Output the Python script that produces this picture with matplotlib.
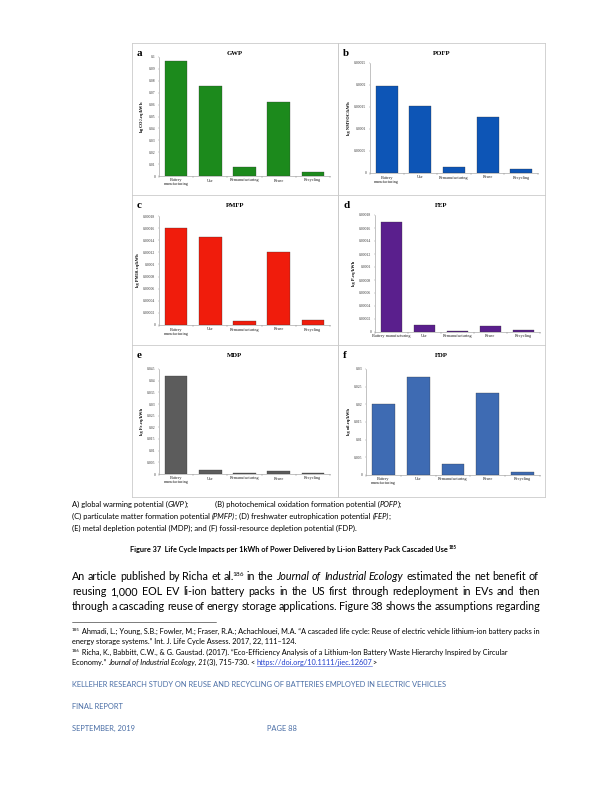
import matplotlib
matplotlib.use("Agg")
import matplotlib.pyplot as plt
from matplotlib.lines import Line2D
from matplotlib.ticker import FixedLocator, FuncFormatter

# page is 612 x 792 points, drawn at 72 dpi so 1 px = 1 pt
W, H = 612, 792
SERIF = "Liberation Serif"
BODY = "Lato"
FOOTBLUE = "#4a6ea6"

categories = ["Battery\nmanufacturing", "Use", "Remanufacturing", "Reuse", "Recycling"]
categories_d = ["Battery manufacturing", "Use", "Remanufacturing", "Reuse", "Recycling"]

gwp = [0.0966, 0.0757, 0.0073, 0.0626, 0.0036]
pofp = [0.000197, 0.000153, 0.000013, 0.000127, 0.000009]
pmfp = [0.000161, 0.000146, 0.000006, 0.000121, 0.0000077]
fep = [0.000170, 0.0000107, 0.000002, 0.0000087, 0.0000026]
mdp = [0.0421, 0.0017, 0.0004, 0.0014, 0.0004]
fdp = [0.0202, 0.0277, 0.0032, 0.0231, 0.00075]

gwp_ticks = [0, 0.01, 0.02, 0.03, 0.04, 0.05, 0.06, 0.07, 0.08, 0.09, 0.1]
pofp_ticks = [0, 0.00005, 0.0001, 0.00015, 0.0002, 0.00025]
pmfp_ticks = [0, 0.00002, 0.00004, 0.00006, 0.00008, 0.0001, 0.00012, 0.00014, 0.00016, 0.00018]
fep_ticks = pmfp_ticks
mdp_ticks = [0, 0.005, 0.01, 0.015, 0.02, 0.025, 0.03, 0.035, 0.04, 0.045]
fdp_ticks = [0, 0.005, 0.01, 0.015, 0.02, 0.025, 0.03]

fig = plt.figure(figsize=(W / 72, H / 72), dpi=72)
fig.patch.set_facecolor("white")


def fx(x):
    return x / W


def fy(y):
    return 1 - y / H


def fmt(v, pos=None):
    if v == 0:
        return "0"
    return ("%.6f" % v).rstrip("0").rstrip(".")


# panel frames (light gray boxes around each sub-chart)
frame_col = "#c9c9c9"
for x0, x1 in [(132, 338), (338, 545)]:
    fig.add_artist(Line2D([fx(x0), fx(x0)], [fy(43), fy(497)], color=frame_col, lw=0.8))
    fig.add_artist(Line2D([fx(x1), fx(x1)], [fy(43), fy(497)], color=frame_col, lw=0.8))
for yy in [43, 195, 345, 497]:
    fig.add_artist(Line2D([fx(132), fx(545)], [fy(yy), fy(yy)], color=frame_col, lw=0.8))

panels = [
    # letter, title, values, ticks, ylabel, color, axes px box, frame px box, labels
    ("a", "GWP", gwp, gwp_ticks, "kg CO$_2$-eq/kWh", "#1c8a1c", (159, 57, 330, 176), (132, 43, 338), categories),
    ("b", "POFP", pofp, pofp_ticks, "kg NMVOC/kWh", "#0d55b6", (370, 63, 538, 173), (338, 43, 545), categories),
    ("c", "PMFP", pmfp, pmfp_ticks, "kg PM10-eq/kWh", "#f01c0c", (159, 216, 330, 325), (132, 195, 338), categories),
    ("d", "FEP", fep, fep_ticks, "kg P-eq/kWh", "#5a1f8d", (375, 215, 540, 332), (338, 195, 545), categories_d),
    ("e", "MDP", mdp, mdp_ticks, "kg Fe-eq/kWh", "#5c5c5c", (159, 369, 330, 474), (132, 345, 338), categories),
    ("f", "FDP", fdp, fdp_ticks, "kg oil-eq/kWh", "#3e6bb3", (366, 369, 540, 475), (338, 345, 545), categories),
]

for letter, title, vals, ticks, ylab, col, (x0, y0, x1, y1), (bx0, by0, bx1), labs in panels:
    ax = fig.add_axes([fx(x0), fy(y1), (x1 - x0) / W, (y1 - y0) / H])
    ax.bar(range(5), vals, width=0.66, color=col, edgecolor="#333333", linewidth=0.3, zorder=3)
    ax.set_xlim(-0.5, 4.5)
    ax.set_ylim(0, ticks[-1])
    ax.yaxis.set_major_locator(FixedLocator(ticks))
    ax.yaxis.set_major_formatter(FuncFormatter(fmt))
    ax.set_xticks(range(5))
    ax.set_xticklabels(labs, fontsize=4.2, family=SERIF, linespacing=1.0, color="#222222")
    ax.set_xticks([i - 0.5 for i in range(6)], minor=True)
    ax.tick_params(axis="x", which="major", length=0, pad=2.5)
    ax.tick_params(axis="x", which="minor", length=2, width=0.4, color="#888888")
    ax.tick_params(axis="y", length=1.5, width=0.4, color="#888888", labelsize=3.8, pad=2,
                   labelcolor="#333333")
    for lbl in ax.get_yticklabels():
        lbl.set_family(SERIF)
    for s in ["top", "right"]:
        ax.spines[s].set_visible(False)
    for s in ["left", "bottom"]:
        ax.spines[s].set_color("#888888")
        ax.spines[s].set_linewidth(0.5)
    ax.set_ylabel(ylab, fontsize=4.4, family=SERIF, fontweight="bold", labelpad=3)
    ax.patch.set_alpha(0)
    # panel letter and title
    fig.text(fx(bx0 + 5), fy(by0 + 13), letter, fontsize=11, family=SERIF, fontweight="bold",
             ha="left", va="baseline")
    fig.text(fx((bx0 + bx1) / 2), fy(by0 + 12), title, fontsize=6.8, family=SERIF, fontweight="bold",
             ha="center", va="baseline")

renderer = fig.canvas.get_renderer()


def put(x, y, s, size, **kw):
    return fig.text(fx(x), fy(y), s, fontsize=size, family=BODY, ha=kw.pop("ha", "left"),
                    va="baseline", **kw)


def width(t):
    return t.get_window_extent(renderer).width


def run(x, y, parts, size, color="black"):
    # parts: list of (text, style); styles: n, i, b, sup, link
    for txt, st in parts:
        kw = {"color": color}
        sz = size
        yy = y
        if st == "i":
            kw["style"] = "italic"
        if st == "b":
            kw["fontweight"] = "bold"
        if st == "sup":
            sz = size * 0.6
            yy = y - size * 0.38
        if st == "link":
            kw["color"] = "#1f3ccc"
        t = put(x, yy, txt, sz, **kw)
        w = width(t)
        if st == "link":
            fig.add_artist(Line2D([fx(x), fx(x + w)], [fy(y + 1.2), fy(y + 1.2)], color="#1f3ccc", lw=0.5))
        x += w
    return x


def justify(tokens, y, x0, x1, size):
    items = []
    for txt, st in tokens:
        kw = {}
        sz = size
        if st == "i":
            kw["style"] = "italic"
        if st == "sup":
            sz = size * 0.6
        t = put(0, y, txt, sz, **kw)
        items.append((t, width(t), st))
    total = sum(w for _, w, _ in items)
    gaps = sum(1 for it in items[1:] if it[2] != "sup")
    gap = (x1 - x0 - total) / gaps
    x = x0
    for i, (t, w, st) in enumerate(items):
        if i > 0 and st != "sup":
            x += gap
        if st == "sup":
            x -= 1.2
        t.set_position((fx(x), fy(y - (size * 0.38 if st == "sup" else 0))))
        x += w


# legend text under the figure
cap = 7.6
run(72, 507, [("A) global warming potential (", "n"), ("GWP", "i"), (");", "n")], cap)
run(215, 507, [("(B) photochemical oxidation formation potential (", "n"), ("POFP", "i"), (");", "n")], cap)
run(72, 519, [("(C) particulate matter formation potential ", "n"), ("(PMFP)", "i"),
              ("; (D) freshwater eutrophication potential ", "n"), ("(FEP)", "i"), (";", "n")], cap)
run(72, 531, [("(E) metal depletion potential (MDP); and (F) fossil-resource depletion potential (FDP).", "n")], cap)

# figure caption
t = put(0, 552, "Figure 37  Life Cycle Impacts per 1kWh of Power Delivered by Li-ion Battery Pack Cascaded Use",
        7.4, fontweight="bold")
cw = width(t)
cx0 = 289 - cw / 2
t.set_position((fx(cx0), fy(552)))
put(cx0 + cw + 0.5, 548.8, "185", 4.6, fontweight="bold")

# body paragraph, justified
body = 10.8
line1 = [(w, "n") for w in "An article published by Richa et al.".split()] + [("186", "sup")] + \
        [(w, "n") for w in "in the".split()] + [(w, "i") for w in "Journal of Industrial Ecology".split()] + \
        [(w, "n") for w in "estimated the net benefit of".split()]
line2 = [(w, "n") for w in "reusing 1,000 EOL EV li-ion battery packs in the US first through redeployment in EVs and then".split()]
line3 = [(w, "n") for w in "through a cascading reuse of energy storage applications.  Figure 38 shows the assumptions regarding".split()]
justify(line1, 580, 72, 540, body)
justify(line2, 595, 72, 540, body)
justify(line3, 610, 72, 540, body)

# footnotes
fig.add_artist(Line2D([fx(72), fx(216)], [fy(622), fy(622)], color="black", lw=0.5))
fn = 7.4
run(72, 634, [("185", "sup"), (" Ahmadi, L.; Young, S.B.; Fowler, M.; Fraser, R.A.; Achachlouei, M.A. \u201cA cascaded life cycle: "
                              "Reuse of electric vehicle lithium-ion battery packs in", "n")], fn)
run(72, 644, [("energy storage systems.\u201d Int. J. Life Cycle Assess. 2017, 22, 111\u2013124.", "n")], fn)
run(72, 655, [("186", "sup"), (" Richa, K., Babbitt, C.W., & G. Gaustad. (2017). \u201cEco-Efficiency Analysis of a Lithium-Ion "
                              "Battery Waste Hierarchy Inspired by Circular", "n")], fn)
run(72, 665, [("Economy.\u201d ", "n"), ("Journal of Industrial Ecology, 21", "i"), ("(3), 715-730. < ", "n"),
              ("https://doi.org/10.1111/jiec.12607", "link"), (">", "n")], fn)

# running footer
ft = 7.5
put(72, 687, "KELLEHER RESEARCH STUDY ON REUSE AND RECYCLING OF BATTERIES EMPLOYED IN ELECTRIC VEHICLES", ft, color=FOOTBLUE)
put(72, 709, "FINAL REPORT", ft, color=FOOTBLUE)
put(72, 731, "SEPTEMBER, 2019", ft, color=FOOTBLUE)
put(267, 731, "PAGE 88", ft, color=FOOTBLUE)

fig.savefig("out.png", dpi=72, facecolor="white")
